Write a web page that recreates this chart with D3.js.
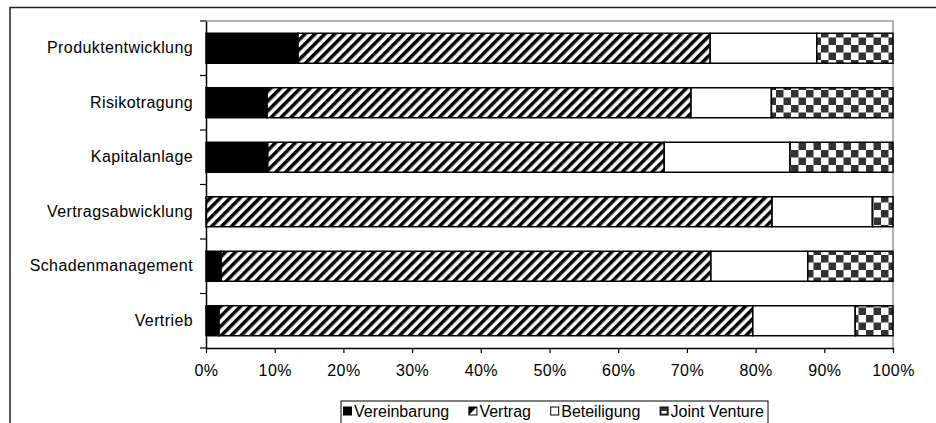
<!DOCTYPE html>
<html>
<head>
<meta charset="utf-8">
<script src="https://cdn.jsdelivr.net/npm/d3@7"></script>
<style>
  html, body { margin: 0; padding: 0; background: #fff; }
  svg { display: block; font-family: Arial, "Liberation Sans", sans-serif; }
  .axis text { letter-spacing: 0.4px; }
</style>
</head>
<body>
<svg id="chart" width="936" height="423"></svg>
<script>
// Business areas (top to bottom)
const categories = ["Produktentwicklung", "Risikotragung", "Kapitalanlage",
                    "Vertragsabwicklung", "Schadenmanagement", "Vertrieb"];
// Cooperation forms (stack order, left to right)
const seriesNames = ["Vereinbarung", "Vertrag", "Beteiligung", "Joint Venture"];
// Shares in percent per business area
const vereinbarung = [13.4, 8.9, 9.0, 0.0, 2.2, 1.9];
const vertrag      = [60.0, 61.7, 57.7, 82.4, 71.3, 77.7];
const beteiligung  = [15.5, 11.7, 18.3, 14.6, 14.1, 14.9];
const jointVenture = [11.1, 17.7, 15.0, 3.0, 12.4, 5.5];
const xTicks = [0, 10, 20, 30, 40, 50, 60, 70, 80, 90, 100];

const rows = categories.map((c, i) => ({
  category: c,
  "Vereinbarung": vereinbarung[i],
  "Vertrag": vertrag[i],
  "Beteiligung": beteiligung[i],
  "Joint Venture": jointVenture[i]
}));
// each row stacked to 100 %
const series = d3.stack().keys(seriesNames).offset(d3.stackOffsetExpand)(rows);

const svg = d3.select("#chart");
const W = 936, H = 423;
const plot = { left: 206, right: 893, top: 21, bottom: 348 };
const FONT = 16, LEGEND_FONT = 16;

svg.append("rect").attr("width", W).attr("height", H).attr("fill", "#fff");

// fill patterns
const defs = svg.append("defs");
const hatch = defs.append("pattern")
  .attr("id", "hatch").attr("patternUnits", "userSpaceOnUse")
  .attr("width", 7).attr("height", 7)
  .attr("patternTransform", "rotate(45)");
hatch.append("rect").attr("width", 7).attr("height", 7).attr("fill", "#fff");
hatch.append("rect").attr("width", 3.5).attr("height", 7).attr("fill", "#000");

const checker = defs.append("pattern")
  .attr("id", "checker").attr("patternUnits", "userSpaceOnUse")
  .attr("width", 15).attr("height", 15).attr("x", plot.left).attr("y", 0);
checker.append("rect").attr("width", 15).attr("height", 15).attr("fill", "#fff");
checker.append("rect").attr("width", 7.5).attr("height", 7.5).attr("fill", "#333");
checker.append("rect").attr("x", 7.5).attr("y", 7.5).attr("width", 7.5).attr("height", 7.5).attr("fill", "#333");

const fills = {
  "Vereinbarung": "#000",
  "Vertrag": "url(#hatch)",
  "Beteiligung": "#fff",
  "Joint Venture": "url(#checker)"
};

// outer frame
svg.append("rect")
  .attr("x", 10).attr("y", 7.5).attr("width", 1000).attr("height", 1000)
  .attr("fill", "none").attr("stroke", "#222").attr("stroke-width", 1.5);

const x = d3.scaleLinear().domain([0, 1]).range([plot.left, plot.right]);
const y = d3.scaleBand().domain(categories)
  .range([plot.top, plot.bottom])
  .paddingInner(0.45).paddingOuter(0.225);

// plot area border (top and right, grey)
svg.append("path")
  .attr("d", `M${plot.left},${plot.top}H${plot.right}V${plot.bottom}`)
  .attr("fill", "none").attr("stroke", "#999").attr("stroke-width", 1.5);

// bars
svg.append("g").selectAll("g")
  .data(series).join("g")
  .attr("fill", d => fills[d.key])
  .selectAll("rect")
  .data(d => d.filter(s => s[1] - s[0] > 0))
  .join("rect")
  .attr("x", d => x(d[0]))
  .attr("width", d => x(d[1]) - x(d[0]))
  .attr("y", d => y(d.data.category))
  .attr("height", y.bandwidth())
  .attr("stroke", "#000").attr("stroke-width", 1.5);

// x axis
const xAxis = svg.append("g").attr("class", "axis")
  .attr("transform", `translate(0,${plot.bottom})`)
  .call(d3.axisBottom(x)
    .tickValues(xTicks.map(v => v / 100))
    .tickFormat(d => Math.round(d * 100) + "%")
    .tickSize(5).tickSizeOuter(0));
xAxis.select(".domain").attr("stroke", "#000").attr("stroke-width", 1.5);
xAxis.selectAll(".tick line").attr("stroke", "#000").attr("stroke-width", 1.2);
xAxis.selectAll(".tick text")
  .attr("y", 22).attr("dy", "0.35em")
  .attr("font-size", FONT).attr("fill", "#000")
  .attr("font-family", "Arial, 'Liberation Sans', sans-serif");

// y axis with labels between boundary ticks
const yAxis = svg.append("g").attr("class", "axis")
  .attr("transform", `translate(${plot.left},0)`)
  .call(d3.axisLeft(y).tickSize(0).tickPadding(13));
yAxis.select(".domain").attr("stroke", "#000").attr("stroke-width", 1.5);
yAxis.selectAll(".tick text")
  .attr("font-size", FONT).attr("fill", "#000")
  .attr("font-family", "Arial, 'Liberation Sans', sans-serif");
const step = y.step();
const bounds = d3.range(categories.length + 1)
  .map(i => y(categories[0]) - step * y.paddingOuter() + i * step);
svg.append("g").selectAll("line")
  .data(bounds).join("line")
  .attr("x1", plot.left - 6).attr("x2", plot.left)
  .attr("y1", d => d).attr("y2", d => d)
  .attr("stroke", "#000").attr("stroke-width", 1.2);

// legend: symbol + text per series, spread across the legend box
const legendBox = { x: 341, y: 401, w: 427, h: 40 };
const legend = svg.append("g");
legend.append("rect")
  .attr("x", legendBox.x).attr("y", legendBox.y)
  .attr("width", legendBox.w).attr("height", legendBox.h)
  .attr("fill", "#fff").attr("stroke", "#000").attr("stroke-width", 1);
const ly = 411;
const items = seriesNames.map(d => {
  const g = legend.append("g");
  if (d === "Vereinbarung") {
    g.append("rect").attr("x", 0).attr("y", -4.5).attr("width", 9).attr("height", 9).attr("fill", "#000");
  } else if (d === "Vertrag") {
    g.append("rect").attr("x", 0.5).attr("y", -4).attr("width", 8).attr("height", 8)
      .attr("fill", "#fff").attr("stroke", "#000").attr("stroke-width", 1);
    g.append("path").attr("d", "M0.5,-4H8.5L0.5,4Z").attr("fill", "#000");
  } else if (d === "Beteiligung") {
    g.append("rect").attr("x", 0.5).attr("y", -4).attr("width", 8).attr("height", 8)
      .attr("fill", "#fff").attr("stroke", "#000").attr("stroke-width", 1);
  } else {
    g.append("rect").attr("x", 0.5).attr("y", -4).attr("width", 8).attr("height", 8)
      .attr("fill", "#333").attr("stroke", "#000").attr("stroke-width", 1);
    g.append("rect").attr("x", 2).attr("y", 0).attr("width", 5).attr("height", 2.5).attr("fill", "#fff");
  }
  const t = g.append("text").attr("x", 11).attr("dy", "0.35em")
    .attr("font-size", LEGEND_FONT).attr("fill", "#000").text(d);
  return { g, w: 11 + t.node().getComputedTextLength() };
});
const startX = legendBox.x + 2, endX = legendBox.x + legendBox.w - 4;
const gap = (endX - startX - d3.sum(items, d => d.w)) / (items.length - 1);
let cursor = startX;
items.forEach(it => {
  it.g.attr("transform", `translate(${cursor},${ly})`);
  cursor += it.w + gap;
});
</script>
</body>
</html>
